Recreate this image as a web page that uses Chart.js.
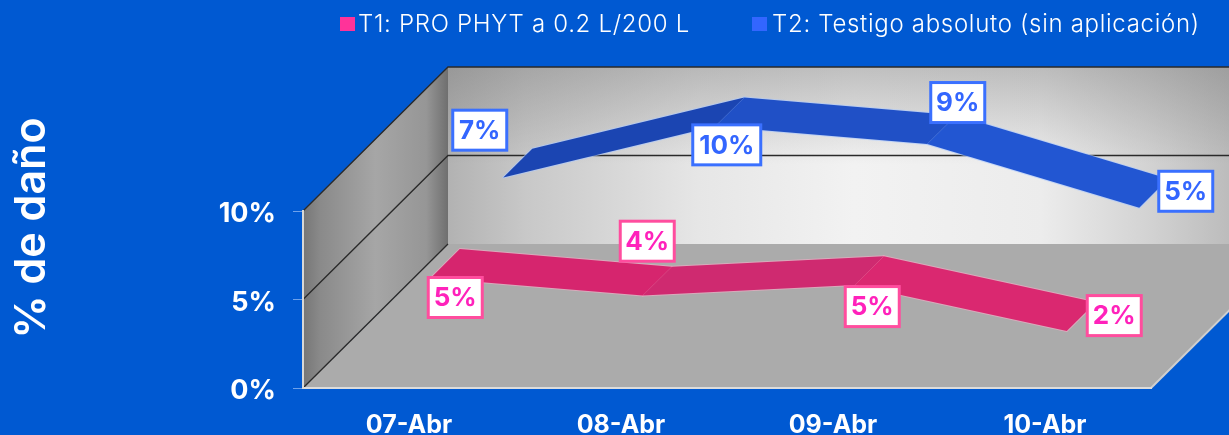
<!DOCTYPE html>
<html><head><meta charset="utf-8">
<style>html,body{margin:0;padding:0;background:#0059d2;overflow:hidden}canvas{display:block}</style>
<script src="https://cdn.jsdelivr.net/npm/chart.js@4"></script></head>
<body><div style="width:1229px;height:435px"><canvas id="c" width="1229" height="435"></canvas></div>
<script>
const categories = ['07-Abr','08-Abr','09-Abr','10-Abr'];
const t1Label = 'T1: PRO PHYT a 0.2 L/200 L';
const t2Label = 'T2: Testigo absoluto (sin aplicación)';
const t1Values = [5.0, 4.0, 4.6, 2.0];
const t2Values = [6.6, 9.5, 8.5, 4.9];
const yTicks = {min:0, max:10, step:5};

// styling only
const BG = '#0059d2', FONT = 'Inter, sans-serif';
const DEPTH_X = 145, DEPTH_Y = -144;
const seriesStyle = [
  {legend:'#ff3399', text:'#ff22bb', border:'#ff4d9e', halo:'rgba(255,170,200,.55)', d0:.15, d1:.35,
   faces:['#d6256e','#cf2a70','#da2870'], labelOffset:[[10,34],[-10,-40],[3,36],[33,-1]]},
  {legend:'#3366ff', text:'#3366ff', border:'#3a70ff', halo:'rgba(170,200,255,.6)', d0:.65, d1:.85,
   faces:['#1b45b2','#2050c6','#2256d2'], labelOffset:[[-38,-33],[-3,33],[16,-27],[32,-2]]}
];
const legendLayout = [{box:340, text:358},{box:752, text:772}];

function poly(ctx, pts){ctx.beginPath();pts.forEach((p,i)=>i?ctx.lineTo(p[0],p[1]):ctx.moveTo(p[0],p[1]));ctx.closePath();}

const scene = {
  id:'scene',
  beforeDraw(chart){
    const {ctx,width,height,scales:{y},chartArea:a} = chart;
    const bk = (x,py)=>[x+DEPTH_X, py+DEPTH_Y];
    ctx.save();
    ctx.fillStyle = BG; ctx.fillRect(0,0,width,height);
    const y0=y.getPixelForValue(yTicks.min), yT=y.getPixelForValue(yTicks.max);
    const L=a.left, R=a.right;
    // back wall
    poly(ctx,[bk(L,y0),bk(R,y0),bk(R,yT),bk(L,yT)]);
    let g=ctx.createLinearGradient(L+DEPTH_X,0,width,0);
    [[0,'#b2b2b2'],[.1,'#c8c8c8'],[.32,'#e6e6e6'],[.52,'#f2f2f2'],[.76,'#ececec'],[.9,'#d2d2d2'],[1,'#bcbcbc']]
      .forEach(s=>g.addColorStop(s[0],s[1]));
    ctx.fillStyle=g;ctx.fill();
    g=ctx.createLinearGradient(0,yT+DEPTH_Y,0,y0+DEPTH_Y);
    g.addColorStop(0,'rgba(110,110,110,.38)');g.addColorStop(.55,'rgba(110,110,110,0)');g.addColorStop(1,'rgba(110,110,110,0)');
    ctx.fillStyle=g;ctx.fill();
    // floor
    poly(ctx,[[L,y0],[R,y0],bk(R,y0),bk(L,y0)]);
    ctx.fillStyle='#ababab';ctx.fill();
    // side wall
    poly(ctx,[[L,y0],bk(L,y0),bk(L,yT),[L,yT]]);
    g=ctx.createLinearGradient(L,0,L+DEPTH_X,0);
    g.addColorStop(0,'#767676');g.addColorStop(.12,'#8a8a8a');g.addColorStop(.5,'#a6a6a6');g.addColorStop(.85,'#969696');g.addColorStop(1,'#6f6f6f');
    ctx.fillStyle=g;ctx.fill();
    // grid lines following the walls
    ctx.strokeStyle='#2a2a2a';ctx.lineWidth=1.3;
    for(let v=yTicks.min;v<=yTicks.max;v+=yTicks.step){
      const py=y.getPixelForValue(v), b=bk(L,py);
      ctx.beginPath();ctx.moveTo(L,py);ctx.lineTo(b[0],b[1]);
      if(v>yTicks.min)ctx.lineTo(width,b[1]);
      ctx.stroke();
    }
    // floor right edge
    ctx.strokeStyle='#cfcfcf';ctx.lineWidth=2;
    const e=bk(R,y0);ctx.beginPath();ctx.moveTo(R,y0);ctx.lineTo(e[0],e[1]);ctx.stroke();
    // axis title
    ctx.save();ctx.translate(32,228);ctx.rotate(-Math.PI/2);
    ctx.font='600 43px '+FONT;ctx.fillStyle='#fff';ctx.textAlign='center';ctx.textBaseline='middle';
    ctx.fillText('% de daño',0,0);ctx.restore();
    // legend
    ctx.font='300 24px '+FONT;ctx.letterSpacing='.7px';ctx.textBaseline='middle';ctx.textAlign='left';
    chart.data.datasets.forEach((ds,i)=>{
      ctx.fillStyle=seriesStyle[i].legend;ctx.fillRect(legendLayout[i].box,17,15,14);
      ctx.fillStyle='#fff';ctx.fillText(ds.label,legendLayout[i].text,25);
    });
    ctx.letterSpacing='0px';
    ctx.restore();
  },
  beforeDatasetDraw(chart,args){
    const {ctx}=chart, st=seriesStyle[args.index], pts=args.meta.data;
    ctx.save();ctx.lineJoin='round';
    for(let i=0;i<pts.length-1;i++){
      const a=pts[i],b=pts[i+1];
      poly(ctx,[[a.x+DEPTH_X*st.d0,a.y+DEPTH_Y*st.d0],[b.x+DEPTH_X*st.d0,b.y+DEPTH_Y*st.d0],
                [b.x+DEPTH_X*st.d1,b.y+DEPTH_Y*st.d1],[a.x+DEPTH_X*st.d1,a.y+DEPTH_Y*st.d1]]);
      ctx.strokeStyle=st.halo;ctx.lineWidth=2;ctx.stroke();
    }
    for(let i=0;i<pts.length-1;i++){
      const a=pts[i],b=pts[i+1];
      poly(ctx,[[a.x+DEPTH_X*st.d0,a.y+DEPTH_Y*st.d0],[b.x+DEPTH_X*st.d0,b.y+DEPTH_Y*st.d0],
                [b.x+DEPTH_X*st.d1,b.y+DEPTH_Y*st.d1],[a.x+DEPTH_X*st.d1,a.y+DEPTH_Y*st.d1]]);
      ctx.fillStyle=st.faces[i];ctx.fill();
    }
    ctx.restore();
    return false;
  },
  afterDatasetsDraw(chart){
    const {ctx}=chart;
    ctx.save();ctx.font='700 26px '+FONT;ctx.textAlign='center';ctx.textBaseline='middle';
    chart.data.datasets.forEach((ds,k)=>{
      const st=seriesStyle[k], dm=(st.d0+st.d1)/2;
      chart.getDatasetMeta(k).data.forEach((p,i)=>{
        const txt=Math.round(ds.data[i])+'%';
        const cx=p.x+DEPTH_X*dm+st.labelOffset[i][0], cy=p.y+DEPTH_Y*dm+st.labelOffset[i][1];
        const w=txt.length>2?68:54,h=40;
        ctx.fillStyle='#fff';ctx.fillRect(cx-w/2,cy-h/2,w,h);
        ctx.strokeStyle=st.border;ctx.lineWidth=3;ctx.strokeRect(cx-w/2,cy-h/2,w,h);
        ctx.fillStyle=st.text;ctx.fillText(txt,cx,cy+1);
      });
    });
    ctx.restore();
  }
};

new Chart(document.getElementById('c'),{
  type:'line',
  plugins:[scene],
  data:{labels:categories,datasets:[
    {label:t1Label,data:t1Values,borderColor:seriesStyle[0].legend,backgroundColor:seriesStyle[0].legend,pointRadius:0},
    {label:t2Label,data:t2Values,borderColor:seriesStyle[1].legend,backgroundColor:seriesStyle[1].legend,pointRadius:0}
  ]},
  options:{
    responsive:false,animation:false,devicePixelRatio:1,
    layout:{padding:{top:211,right:78,left:0,bottom:0}},
    plugins:{legend:{display:false},tooltip:{enabled:false}},
    scales:{
      x:{type:'category',offset:true,
        afterFit(s){s.height=47;},
        grid:{display:false,drawTicks:false},
        border:{display:true,color:'#dcdcdc',width:2},
        ticks:{color:'#fff',font:{family:FONT,size:25,weight:'700'},padding:22,maxRotation:0,autoSkip:false}},
      y:{min:yTicks.min,max:yTicks.max,
        afterFit(s){s.width=303;},
        grid:{drawOnChartArea:false,drawTicks:true,tickLength:10,color:'rgba(200,220,255,.55)'},
        border:{display:true,color:'#d8d8d8',width:2},
        ticks:{stepSize:yTicks.step,color:'#fff',font:{family:FONT,size:27,weight:'700'},padding:17,labelOffset:3,callback:v=>v+'%'}}
    }
  }
});
</script></body></html>
